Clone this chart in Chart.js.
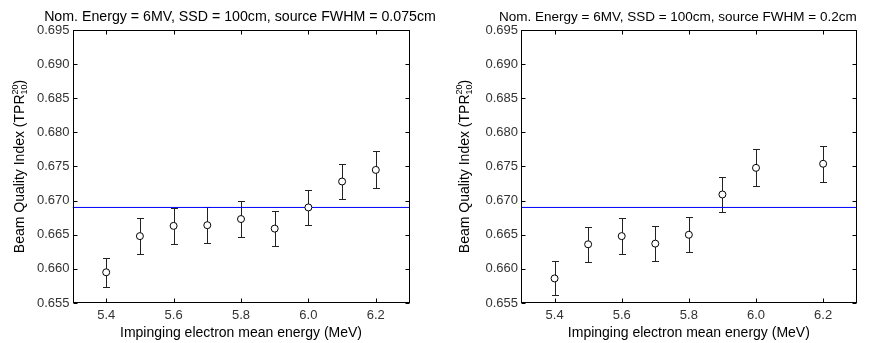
<!DOCTYPE html>
<html>
<head>
<meta charset="utf-8">
<script src="https://cdn.jsdelivr.net/npm/chart.js@4.4.1/dist/chart.umd.min.js"></script>
<style>
  body { margin: 0; background: #fff; }
  #wrap { position: relative; width: 877px; height: 343px; }
  canvas { position: absolute; top: 0; }
</style>
</head>
<body>
<div id="wrap">
  <canvas id="chartA" width="440" height="343" style="left:0"></canvas>
  <canvas id="chartB" width="437" height="343" style="left:440px"></canvas>
</div>
<script>
// source FWHM = 0.075cm
const energyA = [5.4, 5.5, 5.6, 5.7, 5.8, 5.9, 6.0, 6.1, 6.2];
const tprA    = [0.6595, 0.6648, 0.6663, 0.6664, 0.6673, 0.6659, 0.6690, 0.6728, 0.6745];
const errA    = [0.0021, 0.0026, 0.0026, 0.0026, 0.0026, 0.0026, 0.0026, 0.0026, 0.0027];

// source FWHM = 0.2cm
const energyB = [5.4, 5.5, 5.6, 5.7, 5.8, 5.9, 6.0, 6.2];
const tprB    = [0.6586, 0.6636, 0.6648, 0.6637, 0.6650, 0.6709, 0.6748, 0.6754];
const errB    = [0.0025, 0.0026, 0.0026, 0.0026, 0.0026, 0.0026, 0.0027, 0.0026];

const refTpr = 0.669;
const xRange = [5.3, 6.3];
const yRange = [0.655, 0.695];
const xTicks = [5.4, 5.6, 5.8, 6.0, 6.2];
const yTicks = [0.655, 0.660, 0.665, 0.670, 0.675, 0.680, 0.685, 0.690, 0.695];

const FONT = '"Liberation Sans", Arial, Helvetica, sans-serif';
Chart.defaults.font.family = FONT;

// error bars, frame, inward ticks and text
const framePlugin = {
    id: 'frame',
    beforeDatasetsDraw(chart, args, opts) {
        const { ctx, scales: { x, y } } = chart;
        ctx.save();
        ctx.strokeStyle = '#222';
        ctx.lineWidth = 1;
        opts.values.forEach((v, i) => {
            const px = Math.round(x.getPixelForValue(opts.energies[i])) + 0.5;
            const top = Math.round(y.getPixelForValue(v + opts.errors[i])) + 0.5;
            const bot = Math.round(y.getPixelForValue(v - opts.errors[i])) + 0.5;
            ctx.beginPath();
            ctx.moveTo(px, top); ctx.lineTo(px, bot);
            ctx.moveTo(px - 3.5, top); ctx.lineTo(px + 3.5, top);
            ctx.moveTo(px - 3.5, bot); ctx.lineTo(px + 3.5, bot);
            ctx.stroke();
        });
        ctx.restore();
    },
    afterDraw(chart, args, opts) {
        const { ctx, chartArea: a, scales: { x, y } } = chart;
        const L = Math.round(a.left) + 0.5, R = Math.round(a.right) - 0.5;
        const T = Math.round(a.top) + 0.5, B = Math.round(a.bottom) - 0.5;
        ctx.save();
        ctx.strokeStyle = '#000';
        ctx.lineWidth = 1;
        ctx.strokeRect(L, T, R - L, B - T);
        ctx.beginPath();
        xTicks.forEach(v => {
            const px = Math.round(x.getPixelForValue(v)) + 0.5;
            ctx.moveTo(px, B); ctx.lineTo(px, B - 4);
            ctx.moveTo(px, T); ctx.lineTo(px, T + 4);
        });
        yTicks.forEach(v => {
            const py = Math.round(y.getPixelForValue(v)) + 0.5;
            ctx.moveTo(L, py); ctx.lineTo(L + 4, py);
            ctx.moveTo(R, py); ctx.lineTo(R - 4, py);
        });
        ctx.stroke();

        const cx = (a.left + a.right) / 2;
        ctx.fillStyle = '#000';
        ctx.textBaseline = 'alphabetic';
        ctx.textAlign = 'center';
        ctx.font = opts.titleSize + 'px ' + FONT;
        ctx.fillText(opts.title, cx + opts.titleShift, 21);
        ctx.font = '14px ' + FONT;
        ctx.fillText('Impinging electron mean energy (MeV)', cx, 337);

        // y title with stacked super/subscript
        const main = 'Beam Quality Index (TPR';
        ctx.font = '14px ' + FONT;
        const wMain = ctx.measureText(main).width;
        const wClose = ctx.measureText(')').width;
        ctx.font = '9px ' + FONT;
        const wSup = Math.max(ctx.measureText('20').width, ctx.measureText('10').width);
        const total = wMain + wSup + wClose;
        ctx.translate(opts.yTitleX, (a.top + a.bottom) / 2);
        ctx.rotate(-Math.PI / 2);
        ctx.textAlign = 'left';
        let s = -total / 2;
        ctx.font = '14px ' + FONT;
        ctx.fillText(main, s, 0);
        s += wMain;
        ctx.font = '9px ' + FONT;
        ctx.fillText('20', s, -6.5);
        ctx.fillText('10', s, 3);
        s += wSup;
        ctx.font = '14px ' + FONT;
        ctx.fillText(')', s, 0);
        ctx.restore();
    }
};

function makeChart(id, title, energies, values, errors, geo) {
    return new Chart(document.getElementById(id), {
        type: 'scatter',
        data: {
            datasets: [{
                data: energies.map((e, i) => ({ x: e, y: values[i] })),
                pointStyle: 'circle',
                pointRadius: 3.5,
                pointHoverRadius: 3.5,
                borderColor: '#000',
                backgroundColor: '#fff',
                borderWidth: 1,
                order: 1
            }, {
                type: 'line',
                data: [{ x: xRange[0], y: refTpr }, { x: xRange[1], y: refTpr }],
                borderColor: '#0000ff',
                borderWidth: 1,
                pointRadius: 0,
                order: 2
            }]
        },
        options: {
            responsive: false,
            animation: false,
            events: [],
            layout: { padding: { left: 0, top: 30, right: geo.right, bottom: 0 } },
            plugins: {
                legend: { display: false },
                tooltip: { enabled: false },
                frame: { title: title, titleSize: geo.titleSize, titleShift: geo.titleShift,
                         yTitleX: geo.yTitleX, energies: energies, values: values, errors: errors }
            },
            scales: {
                x: {
                    type: 'linear',
                    min: xRange[0], max: xRange[1],
                    afterBuildTicks: s => { s.ticks = xTicks.map(v => ({ value: v })); },
                    afterFit: s => { s.height = 40; },
                    grid: { display: false, drawTicks: false },
                    border: { display: false },
                    ticks: { color: '#333', font: { size: 13 }, padding: 5,
                             callback: v => v.toFixed(1) }
                },
                y: {
                    min: yRange[0], max: yRange[1],
                    afterBuildTicks: s => { s.ticks = yTicks.map(v => ({ value: v })); },
                    afterFit: s => { s.width = geo.left; },
                    grid: { display: false, drawTicks: false },
                    border: { display: false },
                    ticks: { color: '#333', font: { size: 13 }, padding: 3,
                             callback: v => v.toFixed(3) }
                }
            }
        },
        plugins: [framePlugin]
    });
}

makeChart('chartA', 'Nom. Energy = 6MV, SSD = 100cm, source FWHM = 0.075cm',
    energyA, tprA, errA, { left: 72.5, right: 30.5, titleSize: 14.2, titleShift: -1, yTitleX: 24 });
makeChart('chartB', 'Nom. Energy = 6MV, SSD = 100cm, source FWHM = 0.2cm',
    energyB, tprB, errB, { left: 81, right: 20.3, titleSize: 13.5, titleShift: -11, yTitleX: 28.5 });
</script>
</body>
</html>
